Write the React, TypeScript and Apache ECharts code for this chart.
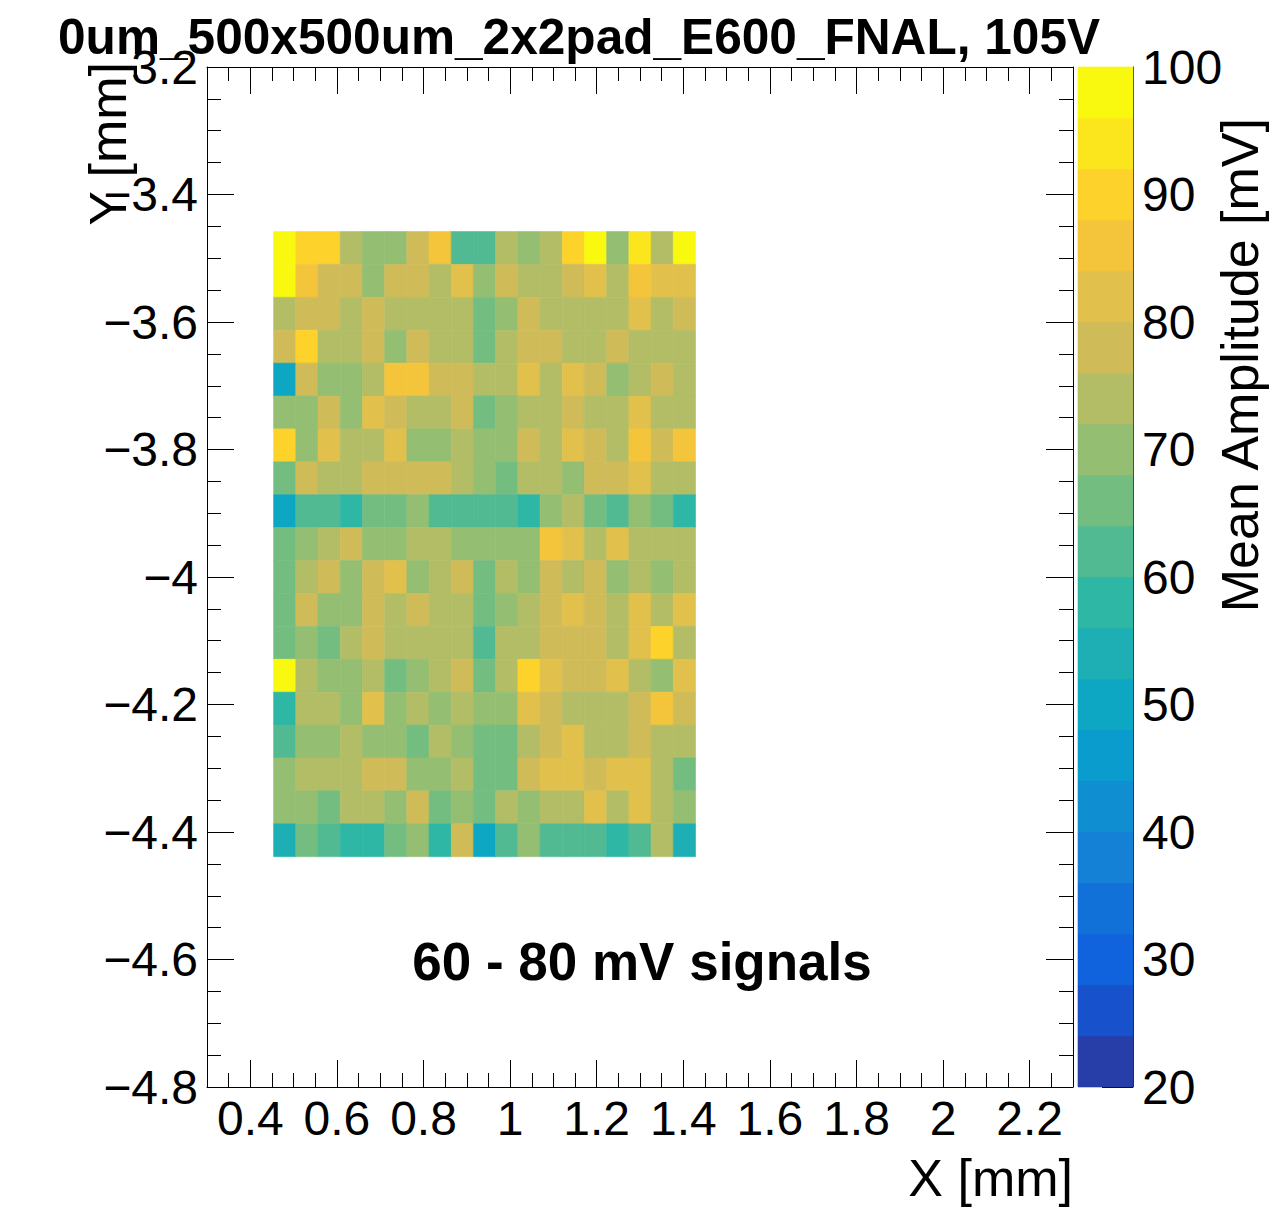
import React, { useEffect, useRef } from "react";
import * as echarts from "echarts";

// Histogram binning (TH2 style): 39 x bins over [0.3, 2.3], 31 y bins over [-4.8, -3.2]
const X_MIN = 0.3;
const X_MAX = 2.3;
const X_BINS = 39;
const Y_MIN = -4.8;
const Y_MAX = -3.2;
const Y_BINS = 31;
const FIRST_X_BIN = 3; // first filled column (from the left)
const FIRST_Y_BIN_FROM_TOP = 5; // first filled row (from the top)

// Mean amplitude [mV] per pad cell, rows listed from top (y high) to bottom
const AMPLITUDE_ROWS: number[][] = [
  [98, 90, 90, 74, 70, 70, 78, 86, 62, 62, 74, 70, 74, 90, 98, 70, 94, 74, 98],
  [98, 86, 78, 78, 70, 78, 78, 74, 82, 70, 78, 74, 74, 78, 82, 74, 86, 82, 82],
  [74, 78, 78, 74, 78, 74, 74, 74, 74, 66, 70, 78, 74, 74, 74, 74, 82, 74, 78],
  [78, 90, 74, 74, 78, 70, 78, 74, 74, 66, 74, 78, 78, 74, 74, 78, 74, 74, 74],
  [50, 78, 70, 70, 74, 86, 86, 78, 78, 74, 74, 82, 74, 82, 78, 70, 74, 78, 74],
  [70, 70, 78, 70, 82, 78, 74, 74, 78, 66, 70, 74, 74, 78, 74, 74, 82, 74, 74],
  [90, 70, 82, 74, 74, 82, 70, 70, 74, 70, 70, 78, 74, 82, 78, 74, 86, 78, 86],
  [66, 78, 74, 74, 78, 78, 78, 78, 74, 70, 66, 74, 74, 70, 78, 78, 82, 74, 74],
  [50, 62, 62, 58, 66, 66, 70, 62, 62, 62, 62, 58, 70, 74, 66, 62, 70, 66, 58],
  [66, 70, 74, 78, 70, 70, 74, 74, 70, 70, 70, 70, 86, 82, 74, 82, 74, 74, 74],
  [66, 74, 78, 70, 78, 82, 70, 74, 78, 66, 74, 70, 78, 74, 78, 70, 74, 70, 74],
  [66, 78, 70, 70, 78, 74, 78, 74, 74, 66, 70, 74, 78, 82, 78, 74, 82, 74, 82],
  [66, 70, 66, 74, 78, 74, 74, 74, 74, 62, 74, 74, 78, 78, 78, 74, 82, 90, 74],
  [98, 74, 70, 70, 74, 66, 70, 74, 78, 66, 74, 90, 82, 78, 78, 82, 74, 70, 82],
  [58, 74, 74, 70, 82, 70, 74, 70, 74, 70, 70, 82, 78, 74, 74, 74, 78, 86, 78],
  [62, 70, 70, 74, 70, 70, 66, 74, 70, 66, 66, 74, 78, 82, 74, 74, 78, 74, 74],
  [70, 74, 74, 74, 78, 78, 70, 70, 74, 66, 66, 78, 82, 82, 78, 82, 82, 74, 66],
  [70, 70, 66, 74, 74, 70, 78, 66, 70, 66, 74, 70, 74, 74, 82, 74, 82, 74, 70],
  [54, 66, 62, 58, 58, 66, 70, 58, 78, 50, 62, 70, 62, 62, 62, 58, 62, 74, 54],
];

const X_LABELS = [0.4, 0.6, 0.8, 1, 1.2, 1.4, 1.6, 1.8, 2, 2.2];
const Z_MIN = 20;
const Z_MAX = 100;
const Z_LEVELS = 20;

const TITLE = "0um_500x500um_2x2pad_E600_FNAL, 105V";
const X_TITLE = "X [mm]";
const Y_TITLE = "Y [mm]";
const Z_TITLE = "Mean Amplitude [mV]";
const NOTE = "60 - 80 mV signals";

// kBird palette stops
const BIRD_STOPS = [0.0, 0.125, 0.25, 0.375, 0.5, 0.625, 0.75, 0.875, 1.0];
const BIRD_R = [0.2082, 0.0592, 0.078, 0.0232, 0.1802, 0.5301, 0.8186, 0.9956, 0.9764];
const BIRD_G = [0.1664, 0.3599, 0.5041, 0.6419, 0.7178, 0.7492, 0.7328, 0.7862, 0.9832];
const BIRD_B = [0.5293, 0.8684, 0.8385, 0.7914, 0.6425, 0.4662, 0.3499, 0.1968, 0.0539];

const FONT = '"Liberation Sans", Arial, Helvetica, sans-serif';

function birdColor(t: number): string {
  let s = 0;
  while (s < BIRD_STOPS.length - 2 && t > BIRD_STOPS[s + 1]) s++;
  const f = (t - BIRD_STOPS[s]) / (BIRD_STOPS[s + 1] - BIRD_STOPS[s]);
  const mix = (arr: number[]) => Math.round(255 * (arr[s] + (arr[s + 1] - arr[s]) * f));
  const hex = (v: number) => v.toString(16).padStart(2, "0");
  return "#" + hex(mix(BIRD_R)) + hex(mix(BIRD_G)) + hex(mix(BIRD_B));
}

// one colour per contour level, picked the way the palette axis does it
function levelColor(k: number): string {
  const idx = Math.floor(((k + 0.99) * 255) / Z_LEVELS);
  return birdColor(idx / 255);
}

function minus(v: number, digits: number): string {
  const s = String(Number(v.toFixed(digits)));
  return s.replace("-", "\u2212");
}

export default function App() {
  const ref = useRef<HTMLDivElement>(null);

  useEffect(() => {
    document.body.style.margin = "0";
    document.body.style.overflow = "hidden";
    if (!ref.current) return;
    const chart = echarts.init(ref.current, null, { renderer: "svg" });

    const dx = (X_MAX - X_MIN) / X_BINS;
    const dy = (Y_MAX - Y_MIN) / Y_BINS;
    const cells: number[][] = [];
    AMPLITUDE_ROWS.forEach((row, r) => {
      const yHi = Y_MAX - (FIRST_Y_BIN_FROM_TOP + r) * dy;
      row.forEach((v, c) => {
        const xLo = X_MIN + (FIRST_X_BIN + c) * dx;
        cells.push([xLo, xLo + dx, yHi - dy, yHi, v]);
      });
    });

    const step = (Z_MAX - Z_MIN) / Z_LEVELS;
    const pieces: any[] = [];
    const bands: number[][] = [];
    for (let k = 0; k < Z_LEVELS; k++) {
      const lo = Z_MIN + k * step;
      const hi = lo + step;
      const piece: any = { gte: lo, color: levelColor(k) };
      if (k === Z_LEVELS - 1) piece.lte = hi;
      else piece.lt = hi;
      pieces.push(piece);
      bands.push([0, 1, lo, hi, lo + step / 2]);
    }

    const xMinor: number[] = [];
    for (let k = 7; k <= 45; k++) {
      if (k % 4 !== 0) xMinor.push(Number((k * 0.05).toFixed(2)));
    }

    const rectItem = (params: any, api: any) => {
      const p0 = api.coord([api.value(0), api.value(3)]);
      const p1 = api.coord([api.value(1), api.value(2)]);
      const color = api.visual("color");
      return {
        type: "rect",
        shape: { x: p0[0], y: p0[1], width: p1[0] - p0[0], height: p1[1] - p0[1] },
        style: { fill: color, stroke: color, lineWidth: 0.6 },
      };
    };

    const line = { show: true, onZero: false, lineStyle: { color: "#000", width: 1 } };
    const labelStyle = { color: "#000", fontFamily: FONT, fontSize: 48 };
    const tickStyle = { color: "#000", width: 1 };
    const baseX = {
      type: "value",
      gridIndex: 0,
      min: X_MIN,
      max: X_MAX,
      splitLine: { show: false },
    };
    const baseY = {
      type: "value",
      gridIndex: 0,
      min: Y_MIN,
      max: Y_MAX,
      interval: 0.2,
      splitLine: { show: false },
      minorTick: { show: true, splitNumber: 4, length: 14, lineStyle: tickStyle },
      minorSplitLine: { show: false },
    };

    chart.setOption({
      animation: false,
      backgroundColor: "#fff",
      grid: [
        { left: 207, top: 67, width: 866, height: 1020, containLabel: false, outerBoundsMode: "none" },
        { left: 1078, top: 67, width: 55, height: 1020, containLabel: false, outerBoundsMode: "none" },
      ],
      xAxis: [
        {
          ...baseX,
          position: "bottom",
          axisLine: line,
          axisTick: { show: true, inside: true, length: 27, customValues: X_LABELS, lineStyle: tickStyle },
          axisLabel: {
            ...labelStyle,
            margin: 7,
            customValues: X_LABELS,
            formatter: (v: number) => minus(v, 1),
          },
        },
        {
          ...baseX,
          position: "bottom",
          axisLine: { show: false },
          axisTick: { show: true, inside: true, length: 14, customValues: xMinor, lineStyle: tickStyle },
          axisLabel: { show: false },
        },
        {
          ...baseX,
          position: "top",
          axisLine: line,
          axisTick: { show: true, inside: true, length: 27, customValues: X_LABELS, lineStyle: tickStyle },
          axisLabel: { show: false },
        },
        {
          ...baseX,
          position: "top",
          axisLine: { show: false },
          axisTick: { show: true, inside: true, length: 14, customValues: xMinor, lineStyle: tickStyle },
          axisLabel: { show: false },
        },
        { type: "value", gridIndex: 1, min: 0, max: 1, show: false },
      ],
      yAxis: [
        {
          ...baseY,
          position: "left",
          axisLine: line,
          axisTick: { show: true, inside: true, length: 27, lineStyle: tickStyle },
          axisLabel: { ...labelStyle, margin: 9, formatter: (v: number) => minus(v, 1) },
        },
        {
          ...baseY,
          position: "right",
          axisLine: line,
          axisTick: { show: true, inside: true, length: 27, lineStyle: tickStyle },
          axisLabel: { show: false },
        },
        {
          type: "value",
          gridIndex: 1,
          position: "right",
          min: Z_MIN,
          max: Z_MAX,
          interval: 10,
          splitLine: { show: false },
          axisLine: { show: true, onZero: false, lineStyle: { color: "#222", width: 1 } },
          axisTick: { show: true, inside: true, length: 31, lineStyle: tickStyle },
          axisLabel: { ...labelStyle, margin: 9 },
        },
      ],
      visualMap: {
        type: "piecewise",
        show: false,
        dimension: 4,
        seriesIndex: [0, 1],
        pieces,
      },
      series: [
        {
          type: "custom",
          name: "amplitude",
          xAxisIndex: 0,
          yAxisIndex: 0,
          renderItem: rectItem,
          encode: { x: [0, 1], y: [2, 3] },
          data: cells,
          silent: true,
        },
        {
          type: "custom",
          name: "palette",
          xAxisIndex: 4,
          yAxisIndex: 2,
          renderItem: rectItem,
          encode: { x: [0, 1], y: [2, 3] },
          data: bands,
          silent: true,
          z: 1,
        },
      ],
      graphic: [
        {
          type: "text",
          x: 58,
          y: 37,
          z: 10,
          style: { text: TITLE, font: `bold 49.6px ${FONT}`, fill: "#000", align: "left", verticalAlign: "middle" },
        },
        {
          type: "text",
          x: 642,
          y: 961,
          z: 10,
          style: { text: NOTE, font: `bold 53px ${FONT}`, fill: "#000", align: "center", verticalAlign: "middle" },
        },
        {
          type: "text",
          x: 1073,
          y: 1178,
          z: 10,
          style: { text: X_TITLE, font: `52px ${FONT}`, fill: "#000", align: "right", verticalAlign: "middle" },
        },
        {
          type: "text",
          x: 108,
          y: 62,
          rotation: Math.PI / 2,
          z: 10,
          style: { text: Y_TITLE, font: `52px ${FONT}`, fill: "#000", align: "right", verticalAlign: "middle" },
        },
        {
          type: "text",
          x: 1240,
          y: 118,
          rotation: Math.PI / 2,
          z: 10,
          style: { text: Z_TITLE, font: `52px ${FONT}`, fill: "#000", align: "right", verticalAlign: "middle" },
        },
      ],
    });

    return () => chart.dispose();
  }, []);

  return <div ref={ref} style={{ width: 1281, height: 1208 }} />;
}
